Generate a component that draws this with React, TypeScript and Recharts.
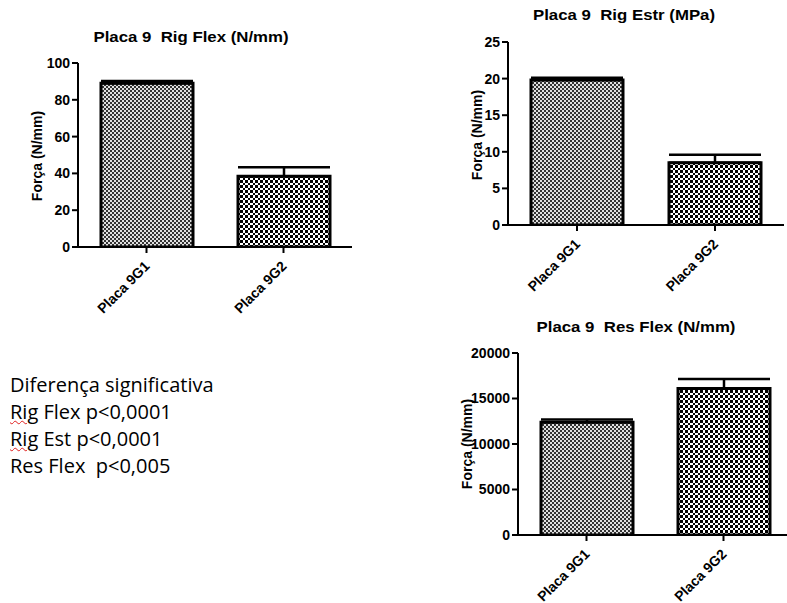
import React from "react";
import { BarChart, Bar, XAxis, YAxis, ErrorBar, Cell } from "recharts";

const groups = ["Placa 9G1", "Placa 9G2"];

const rigFlex = [89, 38.5];
const rigFlexErr = [1.2, 4.8];
const rigFlexTicks = [0, 20, 40, 60, 80, 100];

const rigEstr = [19.8, 8.5];
const rigEstrErr = [0.3, 1.1];
const rigEstrTicks = [0, 5, 10, 15, 20, 25];

const resFlex = [12400, 16100];
const resFlexErr = [300, 1050];
const resFlexTicks = [0, 5000, 10000, 15000, 20000];

const notes = [
  "Diferença significativa",
  "Rig Flex p<0,0001",
  "Rig Est p<0,0001",
  "Res Flex  p<0,005",
];

const FONT = '"Liberation Sans", Arial, sans-serif';
const fills = ["url(#g1)", "url(#g2)"];

const build = (vals: number[], errs: number[]) =>
  groups.map((name, i) => ({ name, value: vals[i], err: [0, errs[i]] }));

const XTick = ({ x, y, payload }: any) => {
  const ax = x + 4;
  const ay = y + 12;
  return (
    <text
      x={ax}
      y={ay}
      transform={`rotate(-45 ${ax} ${ay})`}
      textAnchor="end"
      fontFamily={FONT}
      fontWeight="bold"
      fontSize={14}
      fill="#000"
    >
      {payload.value}
    </text>
  );
};

interface PanelProps {
  left: number;
  top: number;
  width: number;
  height: number;
  marginTop: number;
  data: { name: string; value: number; err: number[] }[];
  ticks: number[];
  title: string;
  titleX: number;
  titleY: number;
  labelX: number;
  labelY: number;
}

function Panel(p: PanelProps) {
  const max = p.ticks[p.ticks.length - 1];
  return (
    <>
      <div
        style={{
          position: "absolute",
          left: p.titleX - 150,
          top: p.titleY - 10,
          width: 300,
          textAlign: "center",
          fontFamily: FONT,
          fontWeight: "bold",
          fontSize: 15,
          lineHeight: "20px",
          whiteSpace: "pre",
          transform: "scaleX(1.12)",
        }}
      >
        {p.title}
      </div>
      <div
        style={{
          position: "absolute",
          left: p.labelX - 60,
          top: p.labelY - 9,
          width: 120,
          textAlign: "center",
          fontFamily: FONT,
          fontWeight: "bold",
          fontSize: 14,
          lineHeight: "18px",
          transform: "rotate(-90deg)",
        }}
      >
        Força (N/mm)
      </div>
      <div style={{ position: "absolute", left: p.left, top: p.top }}>
        <BarChart
          width={p.width}
          height={p.height}
          data={p.data}
          margin={{ top: p.marginTop, right: 0, left: 0, bottom: 0 }}
        >
          <XAxis
            dataKey="name"
            height={80}
            axisLine={{ stroke: "#000", strokeWidth: 2 }}
            tickLine={{ stroke: "#000", strokeWidth: 2 }}
            tickSize={6}
            tick={<XTick />}
            interval={0}
          />
          <YAxis
            width={78}
            domain={[0, max]}
            ticks={p.ticks}
            allowDataOverflow
            axisLine={{ stroke: "#000", strokeWidth: 2 }}
            tickLine={{ stroke: "#000", strokeWidth: 2 }}
            tickSize={6}
            tick={{ fill: "#000", fontFamily: FONT, fontWeight: "bold", fontSize: 14 }}
          />
          <Bar dataKey="value" barSize={92} stroke="#000" strokeWidth={3} isAnimationActive={false}>
            {p.data.map((_, i) => (
              <Cell key={i} fill={fills[i]} />
            ))}
            <ErrorBar dataKey="err" direction="y" width={46} stroke="#000" strokeWidth={2.5} />
          </Bar>
        </BarChart>
      </div>
    </>
  );
}

export default function App() {
  return (
    <div
      style={{
        position: "absolute",
        left: 0,
        top: 0,
        width: 787,
        height: 603,
        overflow: "hidden",
        background: "#fff",
      }}
    >
      <svg width={0} height={0} style={{ position: "absolute" }}>
        <defs>
          <pattern id="g1" width={4} height={4} patternUnits="userSpaceOnUse">
            <rect width={4} height={4} fill="#e0e0e0" />
            <rect x={0} y={0} width={2} height={2} fill="#333" />
            <rect x={2} y={2} width={2} height={2} fill="#333" />
          </pattern>
          <pattern id="g2" width={5} height={5} patternUnits="userSpaceOnUse">
            <rect width={5} height={5} fill="#fff" />
            <rect x={0} y={0} width={3} height={3} fill="#000" />
            <rect x={3} y={3} width={2} height={2} fill="#000" />
          </pattern>
        </defs>
      </svg>

      <Panel
        left={0}
        top={0}
        width={352}
        height={327}
        marginTop={63}
        data={build(rigFlex, rigFlexErr)}
        ticks={rigFlexTicks}
        title="Placa 9  Rig Flex (N/mm)"
        titleX={191}
        titleY={37}
        labelX={37}
        labelY={156}
      />
      <Panel
        left={430}
        top={0}
        width={354}
        height={305}
        marginTop={42}
        data={build(rigEstr, rigEstrErr)}
        ticks={rigEstrTicks}
        title="Placa 9  Rig Estr (MPa)"
        titleX={624}
        titleY={15}
        labelX={477}
        labelY={135}
      />
      <Panel
        left={440}
        top={310}
        width={352}
        height={305}
        marginTop={43}
        data={build(resFlex, resFlexErr)}
        ticks={resFlexTicks}
        title="Placa 9  Res Flex (N/mm)"
        titleX={636}
        titleY={327}
        labelX={467}
        labelY={444}
      />

      <div
        style={{
          position: "absolute",
          left: 10,
          top: 371,
          fontFamily: '"Open Sans", sans-serif',
          fontSize: 20,
          lineHeight: "27px",
          color: "#000",
        }}
      >
        {notes.map((line, i) => {
          const wavy = i === 1 || i === 2;
          const [first, ...rest] = line.split(" ");
          return (
            <div key={i} style={{ whiteSpace: "pre" }}>
              {wavy ? (
                <>
                  <span
                    style={{
                      textDecorationLine: "underline",
                      textDecorationStyle: "wavy",
                      textDecorationColor: "#e02020",
                      textDecorationThickness: 1,
                    }}
                  >
                    {first}
                  </span>
                  {" " + rest.join(" ")}
                </>
              ) : (
                line
              )}
            </div>
          );
        })}
      </div>
    </div>
  );
}
